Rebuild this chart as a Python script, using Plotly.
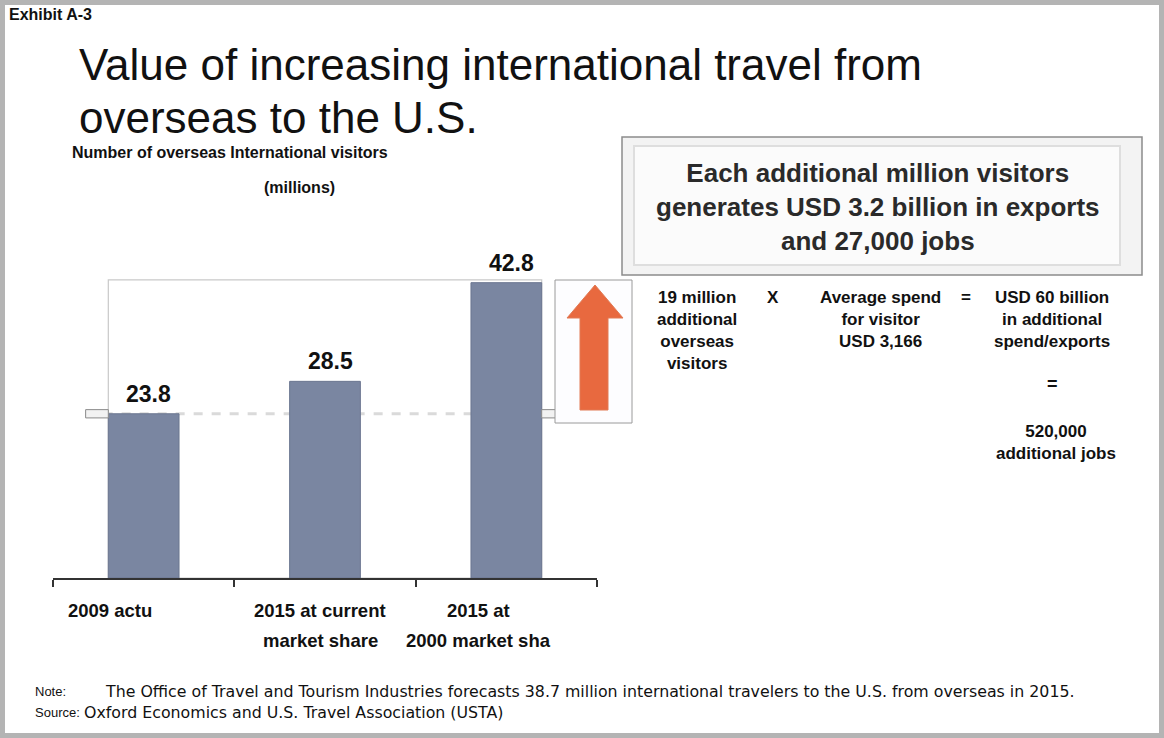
import plotly.graph_objects as go

W, H = 1164, 738

# Chart data
categories = ["2009 actual", "2015 at current market share", "2015 at 2000 market share"]
visitors_millions = [23.8, 28.5, 42.8]
tick_labels = [["2009 actu"], ["2015 at current", "market share"], ["2015 at", "2000 market sha"]]
tick_label_shift = [-34, -5, -28]

# Text blocks
exhibit_label = "Exhibit A-3"
title_lines = ["Value of increasing international travel from", "overseas to the U.S."]
subtitle_lines = ["Number of overseas International visitors", "(millions)"]
callout_text = "Each additional million visitors<br>generates USD 3.2 billion in exports<br>and 27,000 jobs"
equation_terms = [
    "19 million<br>additional<br>overseas<br>visitors",
    "X",
    "Average spend<br>for visitor<br>USD 3,166",
    "=",
    "USD 60 billion<br>in additional<br>spend/exports",
]
jobs_result = "520,000<br>additional jobs"
note_text = "The Office of Travel and Tourism Industries forecasts 38.7 million international travelers to the U.S. from overseas in 2015."
source_text = "Oxford Economics and U.S. Travel Association (USTA)"

BAR_COLOR = "#7a86a1"
ARROW_COLOR = "#e8693f"
BASELINE_PX = 578
PX_PER_UNIT = 6.9
Y_MAX = 47
BAR_WIDTH = 0.39
BOLD = "Liberation Sans"
NARROW = "Liberation Sans Narrow, Liberation Sans"


def px(x):
    return x / W


def py(y):
    return 1 - y / H


fig = go.Figure()

fig.add_trace(go.Bar(
    x=list(range(len(categories))),
    y=visitors_millions,
    width=BAR_WIDTH,
    marker=dict(color=BAR_COLOR, line=dict(color="#6b7690", width=1)),
    hovertext=categories,
    cliponaxis=False,
))

# value labels above each bar
for i, v in enumerate(visitors_millions):
    fig.add_annotation(
        x=i, y=v, xref="x", yref="y", text=f"<b>{v:.1f}</b>", showarrow=False,
        yanchor="bottom", yshift=5, xshift=5, font=dict(family=BOLD, size=23, color="#111"),
    )

# category labels under the axis, one annotation per line
for i, lines in enumerate(tick_labels):
    for k, line in enumerate(lines):
        fig.add_annotation(
            x=i, y=0, xref="x", yref="y", text=f"<b>{line}</b>", showarrow=False,
            yanchor="middle", yshift=-32 - 30 * k, xshift=tick_label_shift[i], align="center",
            font=dict(family=BOLD, size=18.5, color="#111"),
        )

shapes = []

# outer frame
shapes.append(dict(type="rect", xref="paper", yref="paper",
                   x0=px(2.5), x1=px(W - 2.5), y0=py(H - 2.5), y1=py(2.5),
                   line=dict(color="#b4b4b4", width=5), layer="above"))

# light frame round the bars
half = BAR_WIDTH / 2
shapes.append(dict(type="rect", xref="x", yref="y",
                   x0=-half, x1=len(categories) - 1 + half, y0=0, y1=max(visitors_millions) + 0.4,
                   line=dict(color="#c9c9c9", width=1.2), layer="below"))

# dashed reference at the 2009 level
base = visitors_millions[0]
shapes.append(dict(type="line", xref="x", yref="y", x0=-0.32, x1=2.32, y0=base, y1=base,
                   line=dict(color="#dadada", width=3, dash="dash"), layer="below"))
for xa, xb in [(-0.32, -half), (2 + half, 2.32)]:
    shapes.append(dict(type="rect", xref="x", yref="y", x0=xa, x1=xb,
                       y0=base - 0.6, y1=base + 0.6,
                       line=dict(color="#8a8a8a", width=1), fillcolor="#f2f2f2", layer="above"))

# arrow panel
shapes.append(dict(type="rect", xref="paper", yref="paper",
                   x0=px(555), x1=px(632), y0=py(423), y1=py(280),
                   line=dict(color="#9a9a9a", width=1), fillcolor="#fdfdff"))
arrow_pts = [(595, 285), (623, 318), (608, 318), (608, 410), (580, 410), (580, 318), (567, 318)]
path = "M " + " L ".join(f"{px(x)},{py(y)}" for x, y in arrow_pts) + " Z"
shapes.append(dict(type="path", xref="paper", yref="paper", path=path,
                   fillcolor=ARROW_COLOR, line=dict(color="#e27a55", width=1)))

# callout box
shapes.append(dict(type="rect", xref="paper", yref="paper",
                   x0=px(622), x1=px(1142), y0=py(275), y1=py(137),
                   line=dict(color="#8c8c8c", width=1.5), fillcolor="#f3f3f3"))
shapes.append(dict(type="rect", xref="paper", yref="paper",
                   x0=px(634), x1=px(1120), y0=py(265), y1=py(146),
                   line=dict(color="#dedede", width=2), fillcolor="#fbfbfb"))

annotations = []

def note(x, y, text, size, family=BOLD, color="#111", xanchor="left", align="left"):
    annotations.append(dict(x=px(x), y=py(y), xref="paper", yref="paper", text=text,
                            showarrow=False, xanchor=xanchor, yanchor="middle", align=align,
                            font=dict(family=family, size=size, color=color)))

note(7, 15, f"<b>{exhibit_label}</b>", 16, family=NARROW)
note(77, 65, title_lines[0], 44, family="Liberation Sans")
note(77, 118, title_lines[1], 44, family="Liberation Sans")
note(230, 153, f"<b>{subtitle_lines[0]}</b>", 16, xanchor="center", align="center")
note(299, 187, f"<b>{subtitle_lines[1]}</b>", 16, xanchor="center", align="center")

annotations.append(dict(x=px(878), y=py(207), xref="paper", yref="paper",
                        text=f"<b>{callout_text}</b>", showarrow=False,
                        xanchor="center", yanchor="middle", align="center",
                        font=dict(family=BOLD, size=26, color="#2a2a2a")))

eq_x = [697, 773, 880, 966, 1052]
for x, term in zip(eq_x, equation_terms):
    annotations.append(dict(x=px(x), y=py(286), xref="paper", yref="paper",
                            text=f"<b>{term}</b>", showarrow=False,
                            xanchor="center", yanchor="top", align="center",
                            font=dict(family=BOLD, size=17, color="#111")))
note(1052, 384, "<b>=</b>", 18, xanchor="center", align="center")
annotations.append(dict(x=px(1056), y=py(420), xref="paper", yref="paper",
                        text=f"<b>{jobs_result}</b>", showarrow=False,
                        xanchor="center", yanchor="top", align="center",
                        font=dict(family=BOLD, size=17, color="#111")))

note(33, 691, "Note:", 13, family="Liberation Sans")
note(103, 691, note_text, 15.8, family="DejaVu Sans")
note(33, 712, "Source:", 13, family="Liberation Sans")
note(82, 712, source_text, 15.8, family="DejaVu Sans")

fig.update_layout(
    width=W, height=H,
    margin=dict(l=0, r=0, t=0, b=0),
    paper_bgcolor="white", plot_bgcolor="white",
    showlegend=False,
    shapes=shapes,
    annotations=list(fig.layout.annotations) + annotations,
    xaxis=dict(
        domain=[px(53), px(597)], range=[-0.5, len(categories) - 0.5],
        showline=True, linecolor="#333", linewidth=2,
        ticks="outside", ticklen=7, tickwidth=2, tickcolor="#333",
        tickmode="array", tickvals=[i - 0.5 for i in range(len(categories) + 1)],
        showticklabels=False, showgrid=False, zeroline=False, fixedrange=True,
    ),
    yaxis=dict(
        domain=[py(BASELINE_PX), py(BASELINE_PX - Y_MAX * PX_PER_UNIT)], range=[0, Y_MAX],
        visible=False, showgrid=False, zeroline=False, fixedrange=True,
    ),
)

fig.write_html("out.html")
